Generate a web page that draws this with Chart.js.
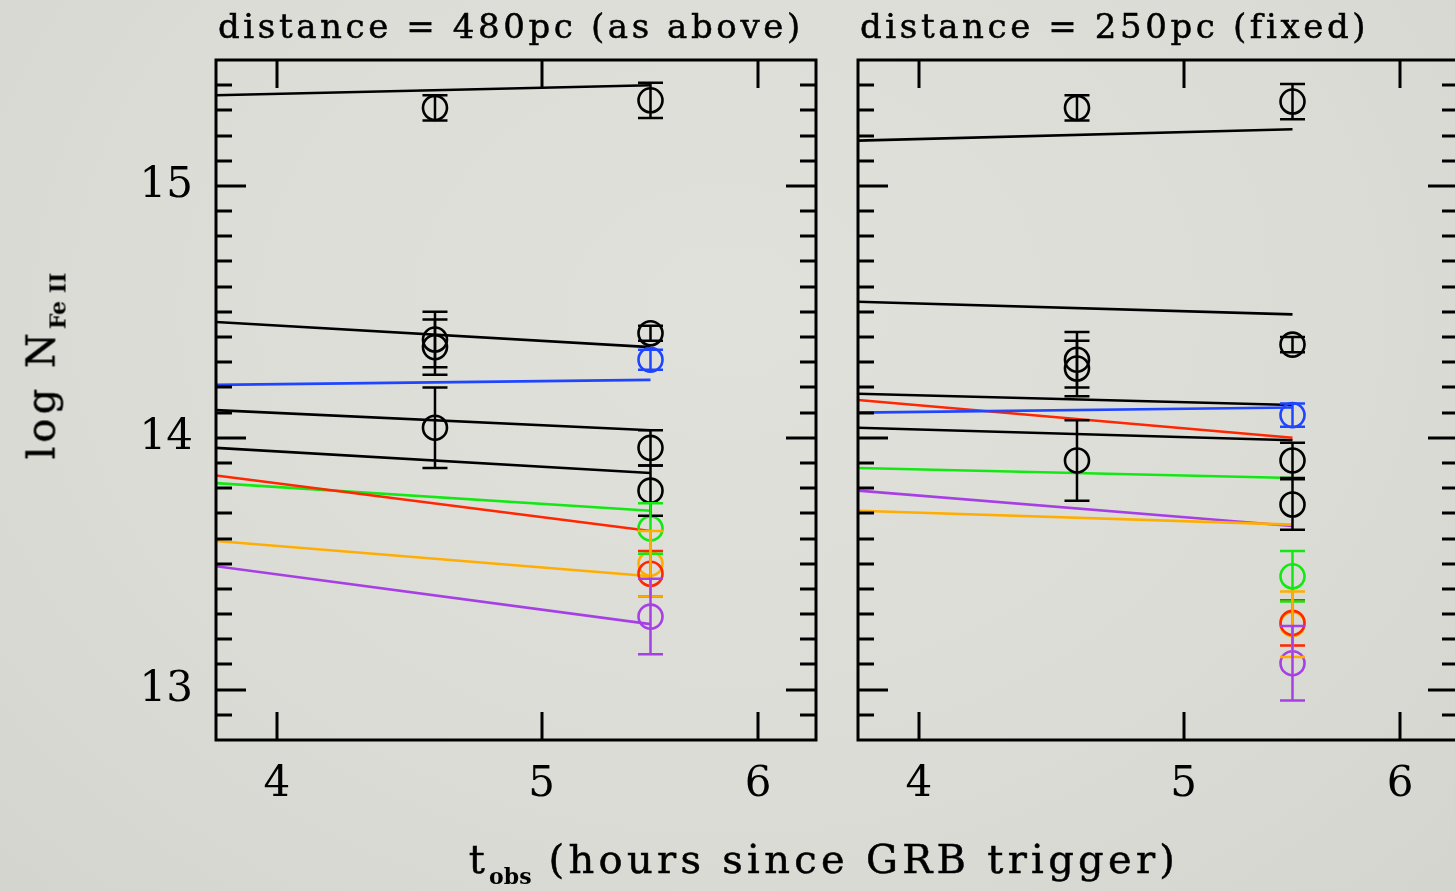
<!DOCTYPE html>
<html>
<head>
<meta charset="utf-8">
<title>log N(Fe II) x t_obs</title>
<script src="https://cdn.jsdelivr.net/npm/chart.js@4.4.1/dist/chart.umd.min.js"></script>
<style>
  html, body { margin: 0; padding: 0; }
  body {
    width: 1455px; height: 891px; overflow: hidden; position: relative;
    background: radial-gradient(ellipse at 50% 35%, #e1e1dc 0%, #dcdcd6 60%, #d5d5cf 100%);
    font-family: "DejaVu Serif", serif; color: #000;
  }
  canvas { position: absolute; top: 0; }
  #c480 { left: 0; }
  #c250 { left: 840px; }
  .titulo { position: absolute; top: 6px; font-size: 34px; white-space: nowrap; letter-spacing: 3.6px; -webkit-text-stroke: 0.5px #000; }
  #t480 { left: 218px; }
  #t250 { left: 860px; }
  #eixoY {
    position: absolute; left: 44px; top: 366px; white-space: nowrap;
    font-size: 40px; letter-spacing: 4px; -webkit-text-stroke: 0.5px #000;
    transform: translate(-50%, -50%) rotate(-90deg);
  }
  #eixoX {
    position: absolute; left: 824px; top: 862px; white-space: nowrap;
    font-size: 40px; letter-spacing: 4.3px; -webkit-text-stroke: 0.5px #000;
    transform: translate(-50%, -50%);
  }
  sub { font-size: 22px; font-weight: bold; letter-spacing: 0; vertical-align: -11px; -webkit-text-stroke: 0; }
</style>
</head>
<body>
<canvas id="c480" width="840" height="891"></canvas>
<canvas id="c250" width="640" height="891"></canvas>
<div class="titulo" id="t480">distance = 480pc (as above)</div>
<div class="titulo" id="t250">distance = 250pc (fixed)</div>
<div id="eixoY">log N<sub>Fe II</sub></div>
<div id="eixoX">t<sub>obs</sub> (hours since GRB trigger)</div>
<script>
// tempos (horas desde o trigger)
const tObs = [4.57, 5.48];
const tModelo = [3.8, 5.48];
const xTicks = [4, 5, 6];
const yTicks = [13, 14, 15];

// um nivel por posicao: 4 pretos, azul, vermelho, verde, laranja, roxo
const coresNivel = ['#000000', '#000000', '#000000', '#000000', '#1f45ff', '#ff2600', '#12e812', '#ffad00', '#a640e4'];

// distancia 480pc
const mod480Ini = [15.36, 14.46, 14.11, 13.96, 14.21, 13.85, 13.82, 13.59, 13.49];
const mod480Fim = [15.40, 14.36, 14.03, 13.86, 14.23, 13.63, 13.71, 13.45, 13.26];
const obs480Cedo = [15.31, 14.39, 14.36, 14.04, null, null, null, null, null];
const err480Cedo = [0.05, 0.11, 0.11, 0.16, null, null, null, null, null];
const obs480Tarde = [15.34, 14.415, 13.96, 13.79, 14.31, 13.46, 13.64, 13.50, 13.29];
const err480Tarde = [0.07, 0.03, 0.07, 0.10, 0.04, 0.09, 0.10, 0.13, 0.15];

// distancia 250pc
const mod250Ini = [15.18, 14.54, 14.175, 14.04, 14.10, 14.15, 13.88, 13.71, 13.79];
const mod250Fim = [15.225, 14.49, 14.13, 13.99, 14.12, 14.00, 13.84, 13.655, 13.65];
const obs250Cedo = [15.31, 14.31, 14.275, 13.91, null, null, null, null, null];
const err250Cedo = [0.05, 0.11, 0.11, 0.16, null, null, null, null, null];
const obs250Tarde = [15.335, 14.37, 13.91, 13.735, 14.09, 13.265, 13.45, 13.26, 13.105];
const err250Tarde = [0.07, 0.03, 0.07, 0.10, 0.046, 0.09, 0.10, 0.13, 0.148];

// moldura com ticks para dentro nos quatro lados
const moldura = {
  id: 'moldura',
  afterDatasetsDraw(chart) {
    const { ctx, chartArea: a, scales: { x, y } } = chart;
    ctx.save();
    ctx.strokeStyle = '#000';
    ctx.lineWidth = 3;
    ctx.beginPath();
    for (let k = 129; k <= 154; k++) {
      const py = Math.round(y.getPixelForValue(k / 10));
      const len = k % 10 === 0 ? 30 : 16;
      ctx.moveTo(a.left, py); ctx.lineTo(a.left + len, py);
      ctx.moveTo(a.right, py); ctx.lineTo(a.right - len, py);
    }
    xTicks.forEach(v => {
      const px = Math.round(x.getPixelForValue(v));
      ctx.moveTo(px, a.bottom); ctx.lineTo(px, a.bottom - 28);
      ctx.moveTo(px, a.top); ctx.lineTo(px, a.top + 28);
    });
    ctx.stroke();
    ctx.strokeRect(a.left, a.top, a.right - a.left, a.bottom - a.top);
    ctx.restore();
  }
};

// barras de erro verticais com traço nas pontas
const barrasErro = {
  id: 'barrasErro',
  afterDatasetsDraw(chart) {
    const { ctx, scales: { y } } = chart;
    ctx.save();
    ctx.lineWidth = 2.5;
    chart.data.datasets.forEach((ds, i) => {
      if (!ds.erros) return;
      const meta = chart.getDatasetMeta(i);
      meta.data.forEach((pt, j) => {
        const v = ds.data[j].y, e = ds.erros[j];
        const y1 = y.getPixelForValue(v + e), y2 = y.getPixelForValue(v - e);
        ctx.strokeStyle = ds.borderColor;
        ctx.beginPath();
        ctx.moveTo(pt.x, y1); ctx.lineTo(pt.x, y2);
        ctx.moveTo(pt.x - 12.5, y1); ctx.lineTo(pt.x + 12.5, y1);
        ctx.moveTo(pt.x - 12.5, y2); ctx.lineTo(pt.x + 12.5, y2);
        ctx.stroke();
      });
    });
    ctx.restore();
  }
};

function montaDatasets(ini, fim, cedo, errCedo, tarde, errTarde) {
  const datasets = [];
  coresNivel.forEach((cor, i) => {
    const pts = [], errs = [];
    if (cedo[i] != null) { pts.push({ x: tObs[0], y: cedo[i] }); errs.push(errCedo[i]); }
    if (tarde[i] != null) { pts.push({ x: tObs[1], y: tarde[i] }); errs.push(errTarde[i]); }
    datasets.push({
      data: pts, erros: errs, showLine: false,
      pointRadius: 12, pointHoverRadius: 12, pointBorderWidth: 2.6,
      borderColor: cor, backgroundColor: 'rgba(0,0,0,0)'
    });
  });
  coresNivel.forEach((cor, i) => {
    datasets.push({
      data: [{ x: tModelo[0], y: ini[i] }, { x: tModelo[1], y: fim[i] }],
      showLine: true, borderColor: cor, borderWidth: 2.6, pointRadius: 0
    });
  });
  return datasets;
}

function painel(canvasId, datasets, comRotulosY) {
  const canvasElement = document.getElementById(canvasId);
  const larguraY = comRotulosY ? 216 : 18;
  const fonteTicks = { family: 'DejaVu Serif', size: 42 };
  return new Chart(canvasElement.getContext('2d'), {
    type: 'scatter',
    data: { datasets: datasets },
    options: {
      responsive: false,
      animation: false,
      layout: { padding: { left: 0, top: 60, right: canvasElement.width - larguraY - 600, bottom: 0 } },
      scales: {
        x: {
          type: 'logarithmic', min: 3.8, max: 6.3,
          grid: { display: false }, border: { display: false },
          afterBuildTicks: s => { s.ticks = xTicks.map(v => ({ value: v })); },
          afterFit: s => { s.height = 151; },
          ticks: {
            color: '#000', padding: 12, maxRotation: 0,
            font: fonteTicks,
            callback: v => String(v)
          }
        },
        y: {
          type: 'linear', min: 12.8, max: 15.5,
          grid: { display: false }, border: { display: false },
          afterBuildTicks: s => { s.ticks = yTicks.map(v => ({ value: v })); },
          afterFit: s => { s.width = larguraY; },
          ticks: {
            display: comRotulosY, color: '#000', padding: 15,
            font: fonteTicks,
            callback: v => String(v)
          }
        }
      },
      plugins: { legend: { display: false }, tooltip: { enabled: false } }
    },
    plugins: [barrasErro, moldura]
  });
}

painel('c480', montaDatasets(mod480Ini, mod480Fim, obs480Cedo, err480Cedo, obs480Tarde, err480Tarde), true);
painel('c250', montaDatasets(mod250Ini, mod250Fim, obs250Cedo, err250Cedo, obs250Tarde, err250Tarde), false);
</script>
</body>
</html>
